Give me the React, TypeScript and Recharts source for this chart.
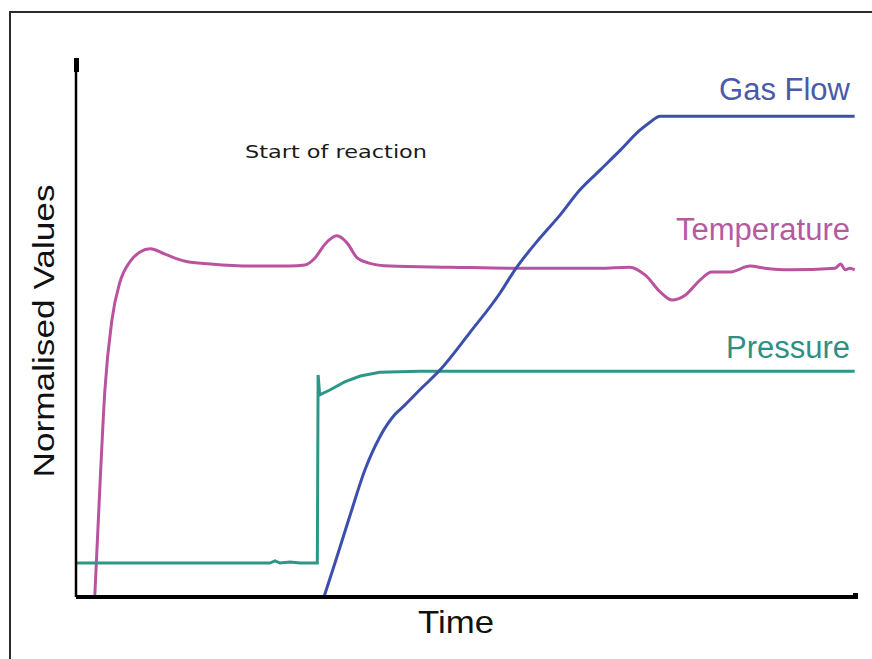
import { LineChart, Line, XAxis, YAxis } from "recharts";

// time axis runs 0..100, values normalised 0..100
const tempTime = [2.4, 3.1, 3.7, 4.6, 5.6, 6.9, 8.2, 9.5, 11.4, 14.0, 17.2, 22.3, 27.4, 29.3, 30.6, 31.9, 33.4, 34.7, 36.0, 37.4, 40.2, 47.9, 56.9, 67.1, 70.9, 72.9, 74.8, 76.3, 78.0, 79.9, 81.4, 83.7, 86.3, 88.2, 91.4, 97.2, 97.9, 98.5, 99.1, 99.7];
const tempValues = [0, 21.7, 38.4, 51.4, 58.3, 62.2, 64.0, 64.6, 63.6, 62.3, 61.8, 61.4, 61.4, 61.6, 62.9, 65.5, 67.0, 65.7, 62.9, 62.0, 61.4, 61.2, 61.0, 61.0, 61.2, 59.7, 56.6, 55.1, 56.0, 58.8, 60.3, 60.3, 61.4, 61.0, 60.7, 61.0, 61.8, 60.7, 61.0, 60.7];

const pressureTime = [0, 24.8, 25.5, 26.1, 27.4, 28.7, 30.9, 31.0, 31.2, 32.5, 34.4, 36.4, 38.9, 44.0, 60.0, 80.0, 99.7];
const pressureValues = [6.3, 6.3, 6.7, 6.3, 6.5, 6.3, 6.3, 41.2, 37.5, 38.4, 39.9, 41.0, 41.7, 41.9, 41.9, 41.9, 41.9];

const flowTime = [31.75, 33.2, 35.1, 37.0, 38.9, 40.8, 42.1, 44.0, 46.6, 50.4, 54.3, 56.2, 59.4, 62.0, 64.5, 67.1, 69.7, 72.2, 73.5, 74.8, 99.7];
const flowValues = [0, 6.5, 15.2, 23.6, 29.7, 33.8, 35.6, 38.4, 42.1, 49.0, 56.4, 60.7, 66.6, 70.9, 75.5, 79.2, 82.9, 86.6, 88.1, 89.2, 89.2];

const toPoints = (t: number[], v: number[]) => t.map((time, i) => ({ time, value: v[i] }));

const tempData = toPoints(tempTime, tempValues);
const pressureData = toPoints(pressureTime, pressureValues);
const flowData = toPoints(flowTime, flowValues);

const sans = "'Liberation Sans', Arial, sans-serif";

export default function App() {
  return (
    <div style={{ position: "fixed", left: 0, top: 0, width: 872, height: 659, overflow: "hidden", background: "#fff" }}>
      <svg width={872} height={659} style={{ position: "absolute", left: 0, top: 0 }}>
        {/* page frame, only top and left edges are in view */}
        <path d="M10 700 L10 12 L900 12" fill="none" stroke="#2b2b2b" strokeWidth={2} />
      </svg>
      <div style={{ position: "absolute", left: 0, top: 0 }}>
        <LineChart width={872} height={659} margin={{ top: 58, right: 15, bottom: 61, left: 75 }}>
          <XAxis
            type="number"
            dataKey="time"
            domain={[0, 100]}
            allowDataOverflow
            tick={false}
            tickLine={false}
            height={1}
            axisLine={{ stroke: "#000", strokeWidth: 4 }}
          />
          <YAxis
            type="number"
            dataKey="value"
            domain={[0, 100]}
            allowDataOverflow
            tick={false}
            tickLine={false}
            width={1}
            axisLine={{ stroke: "#000", strokeWidth: 2.5 }}
          />
          <Line data={tempData} dataKey="value" type="monotone" stroke="#b9539f" strokeWidth={3} dot={false} isAnimationActive={false} />
          <Line data={pressureData} dataKey="value" type="linear" stroke="#2e9689" strokeWidth={3} dot={false} isAnimationActive={false} />
          <Line data={flowData} dataKey="value" type="monotone" stroke="#3a4fae" strokeWidth={3} dot={false} isAnimationActive={false} />
        </LineChart>
      </div>
      <svg width={872} height={659} style={{ position: "absolute", left: 0, top: 0, pointerEvents: "none" }}>
        <rect x={74} y={58} width={5} height={14} fill="#000" />
        <rect x={853} y={593} width={5} height={6} fill="#000" />
        <text x={850} y={100} textAnchor="end" fontFamily={sans} fontSize={31} fill="#4a5aa8">Gas Flow</text>
        <text x={850} y={240} textAnchor="end" fontFamily={sans} fontSize={31} fill="#b55aa0">Temperature</text>
        <text x={850} y={358} textAnchor="end" fontFamily={sans} fontSize={31} fill="#2f8f85">Pressure</text>
        <text x={245} y={158} fontFamily="'DejaVu Sans', sans-serif" fontSize={18} fill="#1a1a1a" textLength={182} lengthAdjust="spacingAndGlyphs">
          Start of reaction
        </text>
        <text x={418} y={633} fontFamily={sans} fontSize={32} fill="#111" textLength={76} lengthAdjust="spacingAndGlyphs">
          Time
        </text>
        <text
          x={54}
          y={331}
          transform="rotate(-90 54 331)"
          textAnchor="middle"
          fontFamily={sans}
          fontSize={29}
          fill="#111"
          textLength={293}
          lengthAdjust="spacingAndGlyphs"
        >
          Normalised Values
        </text>
      </svg>
    </div>
  );
}
